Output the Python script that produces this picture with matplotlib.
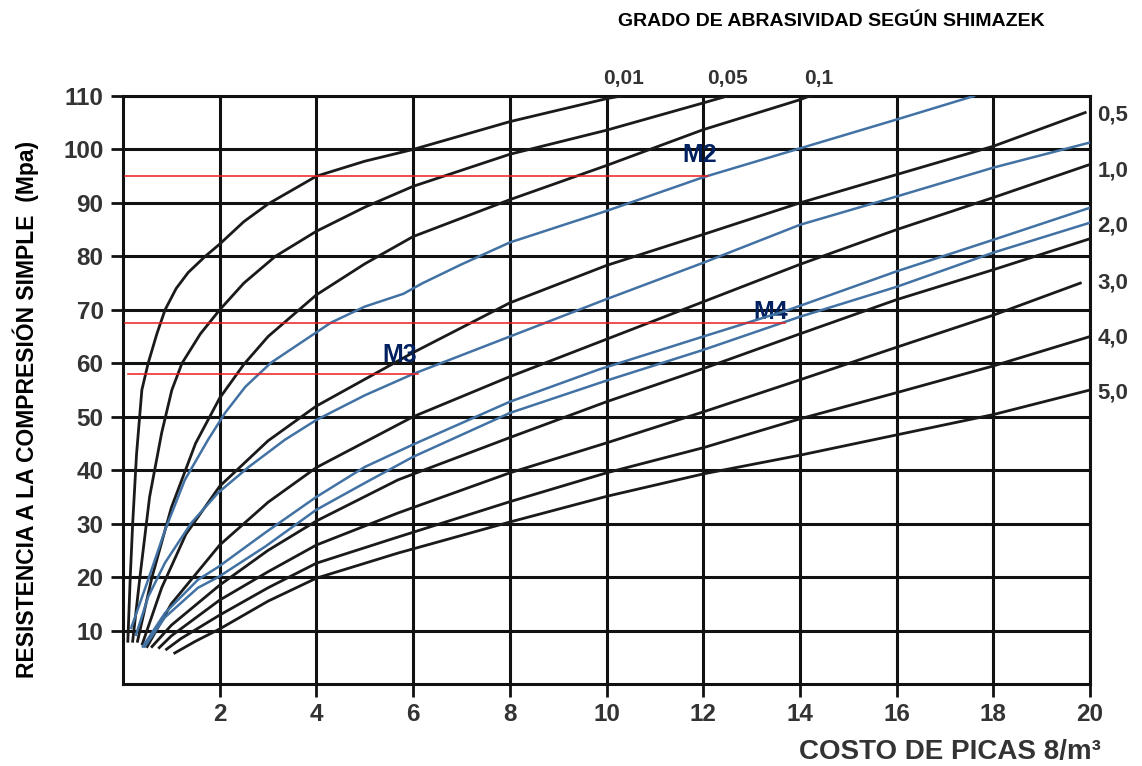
import matplotlib.pyplot as plt
import numpy as np

plt.rcParams['font.family'] = ['Liberation Sans', 'DejaVu Sans']

# abrasividad (Shimazek) curves, black
c001_x = [0.1, 0.15, 0.2, 0.28, 0.39, 0.52, 0.7, 0.87, 1.1, 1.35, 1.7, 2, 2.5, 3, 4, 5, 6, 8, 10, 10.3]
c001_y = [8, 20, 30, 43, 55, 60, 65.5, 70, 74, 77, 80, 82.3, 86.5, 89.8, 95, 97.8, 100, 105.2, 109.5, 110]
c005_x = [0.2, 0.35, 0.55, 0.8, 1.01, 1.22, 1.6, 2, 2.5, 3.15, 4, 5, 6, 8, 10, 12, 12.5]
c005_y = [8, 20, 35, 47, 55, 60, 65.5, 70, 75, 80, 84.7, 89.2, 93.1, 99.1, 103.6, 108.7, 110]
c01_x = [0.3, 0.6, 1, 1.5, 2, 2.5, 3, 4, 5, 6, 8, 10, 12, 14, 14.2]
c01_y = [8, 20, 33, 45, 53.5, 59.8, 65, 72.8, 78.6, 83.7, 90.6, 97, 103.7, 109.3, 110]
c05_x = [0.4, 0.8, 1.3, 2, 3, 4, 6, 8, 10, 12, 14, 16, 18, 19.9]
c05_y = [7.5, 18, 28, 37, 45.5, 52, 62, 71.3, 78.3, 84.1, 90, 95.3, 100.6, 106.9]
c10_x = [0.5, 1, 2, 3, 4, 6, 8, 10, 12, 14, 16, 18, 20]
c10_y = [7, 15, 26, 34, 40.5, 50, 57.5, 64.5, 71.5, 78.5, 85, 91, 97.2]
c20_x = [0.6, 1, 2, 3, 4, 5.69, 8, 10, 12, 14, 16, 18, 20]
c20_y = [7, 11, 18.5, 25, 30.5, 38.2, 46.1, 52.8, 59, 65.5, 71.9, 77.5, 83.3]
c30_x = [0.75, 1, 2, 3, 4, 5.69, 8, 10, 12, 14, 16, 18, 19.8]
c30_y = [6.8, 9, 15.7, 21, 26, 32, 39.5, 45.1, 50.9, 56.9, 63, 69, 75]
c40_x = [0.9, 1.2, 2, 3, 4, 5.69, 8, 10, 12, 14, 16, 18, 20]
c40_y = [6.5, 8.5, 12.9, 18, 22.6, 27.5, 34.1, 39.5, 44.2, 49.6, 54.5, 59.5, 65]
c50_x = [1.07, 1.5, 2, 3, 4, 5.69, 8, 10, 12, 14, 16, 18, 20]
c50_y = [5.8, 8, 10.3, 15.5, 19.8, 24.5, 30.3, 35.1, 39.3, 42.8, 46.6, 50.4, 55]

# muestras, blue
m2_x = [0.17, 0.52, 0.87, 1.28, 1.76, 2.11, 2.53, 3.06, 3.77, 4.3, 5.0, 5.8, 6.2, 7, 8, 10, 12, 14, 16, 17.6]
m2_y = [10.5, 19.5, 28.8, 38.2, 45.7, 50.7, 55.6, 60.1, 64.4, 67.6, 70.6, 73, 75, 78.5, 82.6, 88.5, 94.8, 100.2, 105.6, 110]
m3_x = [0.27, 0.52, 0.87, 1.41, 1.97, 2.6, 3.35, 4, 5, 6, 8, 10, 12, 14, 16, 18, 20]
m3_y = [9.2, 16.3, 22.7, 30.1, 35.8, 40.6, 45.7, 49.4, 54, 58, 65, 72, 78.8, 85.9, 91.2, 96.6, 101.3]
m1_x = [0.41, 0.87, 1.55, 1.97, 2.94, 4, 5, 6, 8, 9.83, 12, 13.77, 16, 18, 20]
m1_y = [7, 13.3, 19.5, 21.9, 28.3, 35, 40.6, 44.8, 52.8, 58.8, 65, 70, 77.2, 83.1, 89.1]
m4_x = [0.45, 0.87, 1.55, 1.97, 2.94, 4, 5, 6, 8, 9.98, 12, 14, 16, 18, 20]
m4_y = [7, 12.5, 18, 20, 25.7, 32.6, 37.6, 42.5, 50.7, 56.7, 62.5, 68.7, 74.3, 80.7, 86.3]

# red reading lines (y, x start, x end)
red_y = [95, 67.5, 58]
red_x0 = [0.05, 0.05, 0.1]
red_x1 = [12.1, 13.7, 6.1]

top_labels = ["0,01", "0,05", "0,1"]
top_lab_x = [10.35, 12.5, 14.4]
right_labels = ["0,5", "1,0", "2,0", "3,0", "4,0", "5,0"]
right_lab_y = [106.4, 95.9, 85.6, 75.1, 64.8, 54.5]

fig = plt.figure(figsize=(11.42, 7.66), dpi=100)
ax = fig.add_axes([123 / 1142, 82 / 766, 967 / 1142, 588 / 766])

blk = "#1a1a1a"
blue = "#4272a4"
for xs, ys in [(c001_x, c001_y), (c005_x, c005_y), (c01_x, c01_y), (c05_x, c05_y),
               (c10_x, c10_y), (c20_x, c20_y), (c30_x, c30_y), (c40_x, c40_y),
               (c50_x, c50_y)]:
    ax.plot(xs, ys, color=blk, lw=2.0, solid_joinstyle="round", zorder=3)

for xs, ys in [(m2_x, m2_y), (m3_x, m3_y), (m1_x, m1_y), (m4_x, m4_y)]:
    ax.plot(xs, ys, color=blue, lw=1.8, solid_joinstyle="round", zorder=4)

for yv, a, b in zip(red_y, red_x0, red_x1):
    ax.plot([a, b], [yv, yv], color="#ee1c1c", lw=1.1, zorder=4)

ax.set_xlim(0, 20)
ax.set_ylim(0, 110)
ax.set_xticks(np.arange(2, 21, 2))
ax.set_yticks(np.arange(10, 111, 10))
ax.grid(True, color="#111111", lw=2.2, zorder=1)
ax.set_axisbelow(True)
for s in ax.spines.values():
    s.set_linewidth(2.2)
    s.set_color("#111111")
ax.tick_params(axis="both", length=9, width=2, color="#111111", pad=5,
               labelsize=17.5, labelcolor="#333333")
for t in ax.get_xticklabels() + ax.get_yticklabels():
    t.set_fontweight("bold")

# text
fnt = dict(fontweight="bold", color="#333333")
for lab, xv in zip(top_labels, top_lab_x):
    ax.text(xv, 113.2, lab, ha="center", va="center", fontsize=15, **fnt)
for lab, yv in zip(right_labels, right_lab_y):
    ax.text(20.15, yv, lab, ha="left", va="center", fontsize=16, **fnt)

navy = "#002060"
ax.text(11.92, 98.9, "M2", color=navy, fontsize=18, fontweight="bold", ha="center", va="center")
ax.text(5.73, 61.6, "M3", color=navy, fontsize=18, fontweight="bold", ha="center", va="center")
ax.text(13.39, 69.5, "M4", color=navy, fontsize=18, fontweight="bold", ha="center", va="center")

fig.text(0.728, 0.972, "GRADO DE ABRASIVIDAD SEGÚN SHIMAZEK", ha="center", va="center",
         fontsize=14, fontweight="bold", color="black")
fig.text(0.0225, 0.4654, "RESISTENCIA A LA COMPRESIÓN SIMPLE  (Mpa)", rotation=90,
         ha="center", va="center", fontsize=16.5, fontweight="bold", color="black")
fig.text(0.832, 0.018, "COSTO DE PICAS 8/m³", ha="center", va="center",
         fontsize=20, fontweight="bold", color="#333333")

fig.savefig("out.png", dpi=100)
